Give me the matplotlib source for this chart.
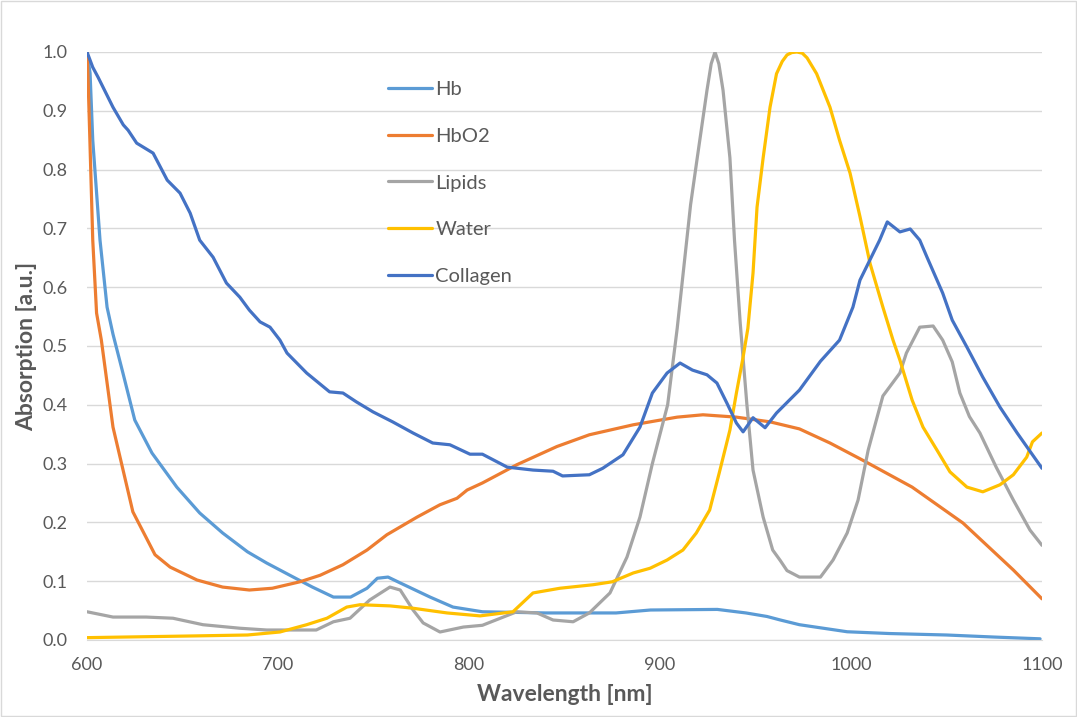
import numpy as np
import matplotlib.pyplot as plt
from matplotlib.patches import Rectangle

# wavelength (nm) / absorption (a.u.)
hb_wl = [600, 601.6, 603, 606.8, 610.5, 613.6, 618.8, 625, 634, 647, 659, 671, 684, 694, 708, 718,
         729, 738, 746.6, 752, 757.6, 764, 779.6, 791.6, 807, 840, 877, 895, 930, 945, 956, 963,
         973, 998, 1020, 1050, 1075, 1099]
hb_val = [1.0, 0.964, 0.85, 0.68, 0.566, 0.52, 0.454, 0.374, 0.318, 0.26, 0.216, 0.182, 0.150, 0.131,
          0.107, 0.090, 0.073, 0.073, 0.088, 0.105, 0.107, 0.097, 0.073, 0.056, 0.048, 0.046, 0.046,
          0.051, 0.052, 0.046, 0.04, 0.034, 0.026, 0.014, 0.011, 0.0085, 0.005, 0.002]

hbo2_wl = [600, 600.5, 601.5, 603, 605, 607.5, 613.6, 624, 635.6, 643.5, 657.6, 671, 685, 697, 711.5,
           722, 734, 746.6, 757, 772.8, 784.8, 793.7, 799, 807, 825, 846, 863, 886, 909, 922.5, 940,
           957.6, 973, 989, 1006, 1032, 1058.6, 1085, 1100]
hbo2_val = [1.0, 0.96, 0.85, 0.68, 0.556, 0.51, 0.362, 0.218, 0.145, 0.124, 0.102, 0.090, 0.085, 0.088,
            0.099, 0.11, 0.128, 0.153, 0.179, 0.209, 0.230, 0.241, 0.255, 0.267, 0.298, 0.329, 0.349,
            0.366, 0.379, 0.383, 0.379, 0.371, 0.359, 0.335, 0.306, 0.260, 0.199, 0.119, 0.070]

lip_wl = [600, 613.6, 631, 645, 660.7, 680, 694, 711.5, 720, 729, 737.7, 748, 758.6, 764, 770.7, 776,
          784.8, 797, 807, 825, 835.6, 844, 854.5, 863, 873.8, 882.7, 889.5, 896, 904, 909, 913, 916,
          919.5, 924.6, 926.8, 928.8, 930.8, 933, 936.6, 939, 942, 945.5, 948.7, 954, 959, 963, 966.5,
          973, 984, 990.6, 998, 1003.7, 1009, 1016.7, 1025.6, 1029, 1036, 1043, 1048, 1053, 1057,
          1062, 1067.5, 1076, 1085, 1093.7, 1100]
lip_val = [0.048, 0.039, 0.039, 0.037, 0.026, 0.020, 0.017, 0.017, 0.017, 0.031, 0.037, 0.068, 0.09,
           0.085, 0.051, 0.029, 0.0136, 0.022, 0.025, 0.048, 0.046, 0.034, 0.031, 0.046, 0.08, 0.141,
           0.209, 0.30, 0.40, 0.53, 0.65, 0.74, 0.82, 0.935, 0.98, 1.0, 0.98, 0.935, 0.82, 0.68, 0.539,
           0.40, 0.289, 0.209, 0.153, 0.135, 0.118, 0.107, 0.107, 0.136, 0.182, 0.238, 0.323, 0.415,
           0.454, 0.488, 0.532, 0.534, 0.51, 0.473, 0.42, 0.38, 0.352, 0.294, 0.238, 0.187, 0.161]

wat_wl = [600, 657.6, 684, 701, 715, 725.6, 736, 743, 758.6, 770.7, 788.5, 805.8, 823, 833.5, 847.6,
          865, 875, 886, 894.8, 903.7, 912, 919, 926, 931, 936.6, 940, 943.5, 946, 948.7, 950.8, 954,
          957.6, 961, 964, 966.5, 969, 971.7, 974.5, 977, 982, 989, 994, 999.5, 1004.7, 1010, 1016.7,
          1022, 1025.6, 1032, 1037.7, 1045, 1051.8, 1060.7, 1069, 1078, 1085, 1092, 1095, 1100]
wat_val = [0.004, 0.007, 0.0085, 0.0136, 0.026, 0.037, 0.056, 0.06, 0.058, 0.054, 0.046, 0.041, 0.048,
           0.08, 0.088, 0.094, 0.099, 0.114, 0.122, 0.136, 0.153, 0.182, 0.221, 0.284, 0.357, 0.42,
           0.481, 0.53, 0.624, 0.736, 0.82, 0.906, 0.963, 0.984, 0.995, 0.999, 1.0, 0.998, 0.99, 0.963,
           0.906, 0.85, 0.794, 0.72, 0.64, 0.566, 0.51, 0.476, 0.408, 0.362, 0.323, 0.286, 0.26, 0.252,
           0.264, 0.281, 0.311, 0.337, 0.352]

col_wl = [600, 603, 605.8, 613.6, 619, 621.5, 626, 634.6, 642, 648.7, 654, 659, 666, 673, 680, 685,
          690.6, 695.8, 701, 704.7, 715, 727, 734, 741, 749.7, 760, 770.7, 781, 790, 800.5, 807, 820,
          833.5, 844, 849, 863, 870, 880.6, 889.5, 896, 903.7, 910.5, 917, 924.6, 929.8, 935, 940,
          943.5, 948.7, 955, 961, 973, 984, 994, 1001, 1004.7, 1015, 1019, 1025.6, 1031, 1036, 1039.8,
          1048, 1053, 1060.7, 1069, 1078, 1087, 1100]
col_val = [1.0, 0.974, 0.957, 0.906, 0.876, 0.867, 0.845, 0.828, 0.782, 0.76, 0.726, 0.68, 0.651, 0.607,
           0.583, 0.561, 0.541, 0.532, 0.51, 0.488, 0.454, 0.422, 0.42, 0.405, 0.388, 0.371, 0.352,
           0.335, 0.332, 0.316, 0.316, 0.294, 0.289, 0.287, 0.279, 0.281, 0.292, 0.315, 0.362, 0.42,
           0.454, 0.471, 0.459, 0.451, 0.437, 0.403, 0.369, 0.354, 0.378, 0.361, 0.386, 0.425, 0.474,
           0.51, 0.566, 0.612, 0.68, 0.711, 0.694, 0.699, 0.68, 0.651, 0.59, 0.544, 0.498, 0.447,
           0.396, 0.352, 0.292]

series = [
    ("Hb", hb_wl, hb_val, "#5B9BD5"),
    ("HbO2", hbo2_wl, hbo2_val, "#ED7D31"),
    ("Lipids", lip_wl, lip_val, "#A5A5A5"),
    ("Water", wat_wl, wat_val, "#FFC000"),
    ("Collagen", col_wl, col_val, "#4472C4"),
]

plt.rcParams['font.family'] = ['Lato', 'DejaVu Sans']

fig = plt.figure(figsize=(10.77, 7.17), dpi=100)
ax = fig.add_axes([0.0808, 0.1074, 0.8867, 0.8201])

for name, wl, val, c in series:
    ax.plot(wl, val, color=c, lw=2.3, label=name, solid_capstyle='round', solid_joinstyle='round')

ax.set_xlim(600, 1100)
ax.set_ylim(0, 1.0)
ax.set_xticks(np.arange(600, 1101, 100))
ax.set_yticks(np.arange(0, 1.01, 0.1))
ax.set_yticklabels(["%.1f" % v for v in np.arange(0, 1.01, 0.1)])
ax.yaxis.grid(True, color="#D9D9D9", lw=1.0)
ax.set_axisbelow(True)
for s in ["top", "right", "left"]:
    ax.spines[s].set_visible(False)
ax.spines["bottom"].set_color("#D9D9D9")
ax.tick_params(length=0, labelsize=13, colors="#595959")
ax.tick_params(axis="y", pad=14)
ax.tick_params(axis="x", pad=12)

ax.set_xlabel("Wavelength [nm]", fontsize=16.5, fontweight="bold", color="#595959", labelpad=8)
ax.set_ylabel("Absorption [a.u.]", fontsize=16.5, fontweight="bold", color="#595959", labelpad=4)

leg = ax.legend(loc="upper left", bbox_to_anchor=(388 / 1077, 1 - 81 / 717),
                bbox_transform=fig.transFigure, frameon=False, fontsize=14.5,
                handlelength=2.2, handletextpad=0.15, labelspacing=1.47,
                borderpad=0, borderaxespad=0)
for t in leg.get_texts():
    t.set_color("#595959")

fig.add_artist(Rectangle((0.0005, 0.0007), 0.999, 0.9986, transform=fig.transFigure,
                         fill=False, edgecolor="#D9D9D9", lw=1))

fig.savefig("out.png", dpi=100)
